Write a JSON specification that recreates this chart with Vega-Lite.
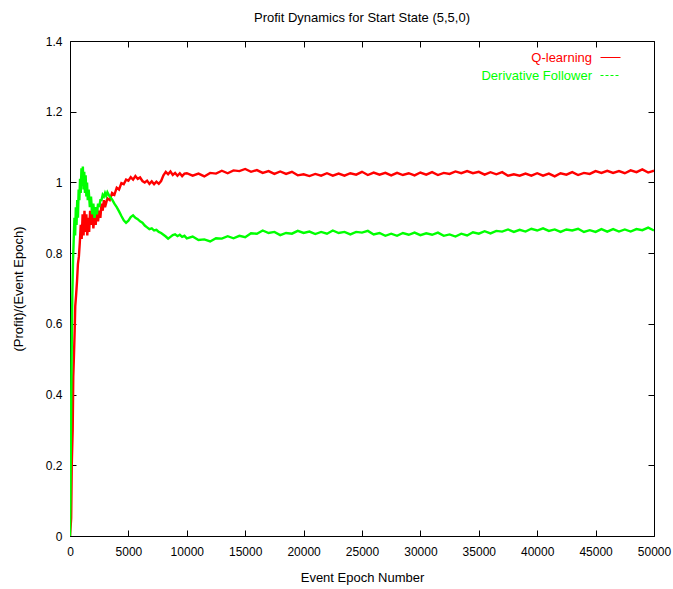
{
  "$schema": "https://vega.github.io/schema/vega-lite/v6.json",
  "autosize": "none",
  "padding": {"left": 70, "top": 41, "right": 19, "bottom": 53},
  "width": 584,
  "height": 495,
  "background": "white",
  "title": {"text": "Profit Dynamics for Start State (5,5,0)", "font": "Liberation Sans", "fontSize": 13, "fontWeight": "normal", "color": "#000", "offset": 10, "anchor": "middle"},
  "config": {
    "view": {"stroke": "#000", "strokeWidth": 1},
    "axis": {"labelFont": "Liberation Sans", "labelFontSize": 12, "labelColor": "#000", "titleFont": "Liberation Sans", "titleFontSize": 13, "titleFontWeight": "normal", "titleColor": "#000", "tickColor": "#000", "tickSize": -6, "domain": false, "grid": false, "labelFlush": false, "labelOverlap": false}
  },
  "data": {"values": [
    {"series":"Q-learning","epoch":0,"profit":0},{"series":"Q-learning","epoch":100,"profit":0.05},{"series":"Q-learning","epoch":150,"profit":0.2},{"series":"Q-learning","epoch":230,"profit":0.3},{"series":"Q-learning","epoch":280,"profit":0.45},{"series":"Q-learning","epoch":330,"profit":0.5},{"series":"Q-learning","epoch":400,"profit":0.58},{"series":"Q-learning","epoch":450,"profit":0.65},{"series":"Q-learning","epoch":520,"profit":0.68},{"series":"Q-learning","epoch":600,"profit":0.72},{"series":"Q-learning","epoch":680,"profit":0.77},{"series":"Q-learning","epoch":760,"profit":0.79},{"series":"Q-learning","epoch":840,"profit":0.83},{"series":"Q-learning","epoch":920,"profit":0.88},{"series":"Q-learning","epoch":1000,"profit":0.84},{"series":"Q-learning","epoch":1080,"profit":0.91},{"series":"Q-learning","epoch":1160,"profit":0.85},{"series":"Q-learning","epoch":1240,"profit":0.92},{"series":"Q-learning","epoch":1320,"profit":0.86},{"series":"Q-learning","epoch":1400,"profit":0.91},{"series":"Q-learning","epoch":1480,"profit":0.85},{"series":"Q-learning","epoch":1560,"profit":0.9},{"series":"Q-learning","epoch":1640,"profit":0.86},{"series":"Q-learning","epoch":1720,"profit":0.92},{"series":"Q-learning","epoch":1800,"profit":0.88},{"series":"Q-learning","epoch":1900,"profit":0.93},{"series":"Q-learning","epoch":2000,"profit":0.87},{"series":"Q-learning","epoch":2100,"profit":0.91},{"series":"Q-learning","epoch":2200,"profit":0.88},{"series":"Q-learning","epoch":2300,"profit":0.93},{"series":"Q-learning","epoch":2400,"profit":0.89},{"series":"Q-learning","epoch":2500,"profit":0.92},{"series":"Q-learning","epoch":2600,"profit":0.9},{"series":"Q-learning","epoch":2700,"profit":0.94},{"series":"Q-learning","epoch":2800,"profit":0.92},{"series":"Q-learning","epoch":2900,"profit":0.95},{"series":"Q-learning","epoch":3000,"profit":0.93},{"series":"Q-learning","epoch":3200,"profit":0.955},{"series":"Q-learning","epoch":3400,"profit":0.95},{"series":"Q-learning","epoch":3600,"profit":0.97},{"series":"Q-learning","epoch":3800,"profit":0.965},{"series":"Q-learning","epoch":4000,"profit":0.985},{"series":"Q-learning","epoch":4200,"profit":0.98},{"series":"Q-learning","epoch":4400,"profit":0.998},{"series":"Q-learning","epoch":4600,"profit":0.995},{"series":"Q-learning","epoch":4800,"profit":1.008},{"series":"Q-learning","epoch":5000,"profit":1.005},{"series":"Q-learning","epoch":5200,"profit":1.015},{"series":"Q-learning","epoch":5400,"profit":1.008},{"series":"Q-learning","epoch":5600,"profit":1.018},{"series":"Q-learning","epoch":5800,"profit":1.01},{"series":"Q-learning","epoch":6000,"profit":1.014},{"series":"Q-learning","epoch":6200,"profit":1.004},{"series":"Q-learning","epoch":6400,"profit":1.0},{"series":"Q-learning","epoch":6600,"profit":1.005},{"series":"Q-learning","epoch":6800,"profit":0.996},{"series":"Q-learning","epoch":7000,"profit":1.003},{"series":"Q-learning","epoch":7200,"profit":0.995},{"series":"Q-learning","epoch":7400,"profit":1.002},{"series":"Q-learning","epoch":7600,"profit":0.996},{"series":"Q-learning","epoch":7800,"profit":1.004},{"series":"Q-learning","epoch":8000,"profit":1.02},{"series":"Q-learning","epoch":8200,"profit":1.03},{"series":"Q-learning","epoch":8400,"profit":1.023},{"series":"Q-learning","epoch":8600,"profit":1.031},{"series":"Q-learning","epoch":8800,"profit":1.021},{"series":"Q-learning","epoch":9000,"profit":1.027},{"series":"Q-learning","epoch":9200,"profit":1.019},{"series":"Q-learning","epoch":9400,"profit":1.026},{"series":"Q-learning","epoch":9600,"profit":1.018},{"series":"Q-learning","epoch":9800,"profit":1.025},
    {"series":"Q-learning","epoch":10000,"profit":1.026},{"series":"Q-learning","epoch":10500,"profit":1.019},{"series":"Q-learning","epoch":11000,"profit":1.025},{"series":"Q-learning","epoch":11500,"profit":1.017},{"series":"Q-learning","epoch":12000,"profit":1.027},{"series":"Q-learning","epoch":12500,"profit":1.025},{"series":"Q-learning","epoch":13000,"profit":1.033},{"series":"Q-learning","epoch":13500,"profit":1.026},{"series":"Q-learning","epoch":14000,"profit":1.034},{"series":"Q-learning","epoch":14500,"profit":1.032},{"series":"Q-learning","epoch":15000,"profit":1.038},{"series":"Q-learning","epoch":15500,"profit":1.03},{"series":"Q-learning","epoch":16000,"profit":1.035},{"series":"Q-learning","epoch":16500,"profit":1.027},{"series":"Q-learning","epoch":17000,"profit":1.032},{"series":"Q-learning","epoch":17500,"profit":1.024},{"series":"Q-learning","epoch":18000,"profit":1.031},{"series":"Q-learning","epoch":18500,"profit":1.024},{"series":"Q-learning","epoch":19000,"profit":1.03},{"series":"Q-learning","epoch":19500,"profit":1.02},{"series":"Q-learning","epoch":20000,"profit":1.023},{"series":"Q-learning","epoch":20500,"profit":1.018},{"series":"Q-learning","epoch":21000,"profit":1.024},{"series":"Q-learning","epoch":21500,"profit":1.019},{"series":"Q-learning","epoch":22000,"profit":1.026},{"series":"Q-learning","epoch":22500,"profit":1.019},{"series":"Q-learning","epoch":23000,"profit":1.025},{"series":"Q-learning","epoch":23500,"profit":1.019},{"series":"Q-learning","epoch":24000,"profit":1.026},{"series":"Q-learning","epoch":24500,"profit":1.022},{"series":"Q-learning","epoch":25000,"profit":1.03},{"series":"Q-learning","epoch":25500,"profit":1.021},{"series":"Q-learning","epoch":26000,"profit":1.028},{"series":"Q-learning","epoch":26500,"profit":1.022},{"series":"Q-learning","epoch":27000,"profit":1.027},{"series":"Q-learning","epoch":27500,"profit":1.02},{"series":"Q-learning","epoch":28000,"profit":1.027},{"series":"Q-learning","epoch":28500,"profit":1.021},{"series":"Q-learning","epoch":29000,"profit":1.026},{"series":"Q-learning","epoch":29500,"profit":1.02},{"series":"Q-learning","epoch":30000,"profit":1.028},{"series":"Q-learning","epoch":30500,"profit":1.022},{"series":"Q-learning","epoch":31000,"profit":1.029},{"series":"Q-learning","epoch":31500,"profit":1.021},{"series":"Q-learning","epoch":32000,"profit":1.027},{"series":"Q-learning","epoch":32500,"profit":1.024},{"series":"Q-learning","epoch":33000,"profit":1.031},{"series":"Q-learning","epoch":33500,"profit":1.026},{"series":"Q-learning","epoch":34000,"profit":1.032},{"series":"Q-learning","epoch":34500,"profit":1.026},{"series":"Q-learning","epoch":35000,"profit":1.03},{"series":"Q-learning","epoch":35500,"profit":1.022},{"series":"Q-learning","epoch":36000,"profit":1.029},{"series":"Q-learning","epoch":36500,"profit":1.023},{"series":"Q-learning","epoch":37000,"profit":1.029},{"series":"Q-learning","epoch":37500,"profit":1.019},{"series":"Q-learning","epoch":38000,"profit":1.023},{"series":"Q-learning","epoch":38500,"profit":1.019},{"series":"Q-learning","epoch":39000,"profit":1.025},{"series":"Q-learning","epoch":39500,"profit":1.019},{"series":"Q-learning","epoch":40000,"profit":1.026},{"series":"Q-learning","epoch":40500,"profit":1.019},{"series":"Q-learning","epoch":41000,"profit":1.025},{"series":"Q-learning","epoch":41500,"profit":1.017},{"series":"Q-learning","epoch":42000,"profit":1.026},{"series":"Q-learning","epoch":42500,"profit":1.022},{"series":"Q-learning","epoch":43000,"profit":1.029},{"series":"Q-learning","epoch":43500,"profit":1.021},{"series":"Q-learning","epoch":44000,"profit":1.027},{"series":"Q-learning","epoch":44500,"profit":1.024},{"series":"Q-learning","epoch":45000,"profit":1.032},{"series":"Q-learning","epoch":45500,"profit":1.027},{"series":"Q-learning","epoch":46000,"profit":1.033},{"series":"Q-learning","epoch":46500,"profit":1.027},{"series":"Q-learning","epoch":47000,"profit":1.032},{"series":"Q-learning","epoch":47500,"profit":1.026},{"series":"Q-learning","epoch":48000,"profit":1.034},{"series":"Q-learning","epoch":48500,"profit":1.029},{"series":"Q-learning","epoch":49000,"profit":1.037},{"series":"Q-learning","epoch":49500,"profit":1.028},{"series":"Q-learning","epoch":50000,"profit":1.033},
    {"series":"Derivative Follower","epoch":0,"profit":0},{"series":"Derivative Follower","epoch":40,"profit":0.1},{"series":"Derivative Follower","epoch":80,"profit":0.3},{"series":"Derivative Follower","epoch":120,"profit":0.45},{"series":"Derivative Follower","epoch":160,"profit":0.58},{"series":"Derivative Follower","epoch":200,"profit":0.68},{"series":"Derivative Follower","epoch":260,"profit":0.78},{"series":"Derivative Follower","epoch":320,"profit":0.84},{"series":"Derivative Follower","epoch":380,"profit":0.9},{"series":"Derivative Follower","epoch":440,"profit":0.85},{"series":"Derivative Follower","epoch":500,"profit":0.93},{"series":"Derivative Follower","epoch":560,"profit":0.88},{"series":"Derivative Follower","epoch":620,"profit":0.95},{"series":"Derivative Follower","epoch":680,"profit":0.9},{"series":"Derivative Follower","epoch":740,"profit":0.98},{"series":"Derivative Follower","epoch":800,"profit":0.95},{"series":"Derivative Follower","epoch":860,"profit":1.01},{"series":"Derivative Follower","epoch":920,"profit":0.97},{"series":"Derivative Follower","epoch":980,"profit":1.04},{"series":"Derivative Follower","epoch":1040,"profit":0.99},{"series":"Derivative Follower","epoch":1100,"profit":1.045},{"series":"Derivative Follower","epoch":1160,"profit":0.98},{"series":"Derivative Follower","epoch":1220,"profit":1.03},{"series":"Derivative Follower","epoch":1280,"profit":0.97},{"series":"Derivative Follower","epoch":1340,"profit":1.02},{"series":"Derivative Follower","epoch":1400,"profit":0.96},{"series":"Derivative Follower","epoch":1460,"profit":1.0},{"series":"Derivative Follower","epoch":1520,"profit":0.95},{"series":"Derivative Follower","epoch":1600,"profit":0.98},{"series":"Derivative Follower","epoch":1700,"profit":0.93},{"series":"Derivative Follower","epoch":1800,"profit":0.96},{"series":"Derivative Follower","epoch":1900,"profit":0.91},{"series":"Derivative Follower","epoch":2000,"profit":0.94},{"series":"Derivative Follower","epoch":2100,"profit":0.9},{"series":"Derivative Follower","epoch":2200,"profit":0.93},{"series":"Derivative Follower","epoch":2300,"profit":0.91},{"series":"Derivative Follower","epoch":2400,"profit":0.94},{"series":"Derivative Follower","epoch":2500,"profit":0.93},{"series":"Derivative Follower","epoch":2600,"profit":0.95},{"series":"Derivative Follower","epoch":2700,"profit":0.95},{"series":"Derivative Follower","epoch":2800,"profit":0.965},{"series":"Derivative Follower","epoch":2900,"profit":0.96},{"series":"Derivative Follower","epoch":3000,"profit":0.97},{"series":"Derivative Follower","epoch":3100,"profit":0.962},{"series":"Derivative Follower","epoch":3200,"profit":0.972},{"series":"Derivative Follower","epoch":3400,"profit":0.96},{"series":"Derivative Follower","epoch":3600,"profit":0.952},{"series":"Derivative Follower","epoch":3800,"profit":0.94},{"series":"Derivative Follower","epoch":4000,"profit":0.93},{"series":"Derivative Follower","epoch":4200,"profit":0.918},{"series":"Derivative Follower","epoch":4400,"profit":0.905},{"series":"Derivative Follower","epoch":4600,"profit":0.893},{"series":"Derivative Follower","epoch":4800,"profit":0.886},{"series":"Derivative Follower","epoch":5000,"profit":0.892},{"series":"Derivative Follower","epoch":5200,"profit":0.902},{"series":"Derivative Follower","epoch":5400,"profit":0.907},{"series":"Derivative Follower","epoch":5600,"profit":0.9},{"series":"Derivative Follower","epoch":5800,"profit":0.896},{"series":"Derivative Follower","epoch":6000,"profit":0.89},{"series":"Derivative Follower","epoch":6200,"profit":0.886},{"series":"Derivative Follower","epoch":6400,"profit":0.878},{"series":"Derivative Follower","epoch":6600,"profit":0.873},{"series":"Derivative Follower","epoch":6800,"profit":0.868},{"series":"Derivative Follower","epoch":7000,"profit":0.87},{"series":"Derivative Follower","epoch":7200,"profit":0.864},{"series":"Derivative Follower","epoch":7400,"profit":0.866},{"series":"Derivative Follower","epoch":7600,"profit":0.86},{"series":"Derivative Follower","epoch":7800,"profit":0.857},{"series":"Derivative Follower","epoch":8000,"profit":0.852},{"series":"Derivative Follower","epoch":8200,"profit":0.847},{"series":"Derivative Follower","epoch":8400,"profit":0.841},{"series":"Derivative Follower","epoch":8600,"profit":0.846},{"series":"Derivative Follower","epoch":8800,"profit":0.851},{"series":"Derivative Follower","epoch":9000,"profit":0.853},{"series":"Derivative Follower","epoch":9200,"profit":0.848},{"series":"Derivative Follower","epoch":9400,"profit":0.852},{"series":"Derivative Follower","epoch":9600,"profit":0.846},{"series":"Derivative Follower","epoch":9800,"profit":0.849},
    {"series":"Derivative Follower","epoch":10000,"profit":0.842},{"series":"Derivative Follower","epoch":10500,"profit":0.847},{"series":"Derivative Follower","epoch":11000,"profit":0.837},{"series":"Derivative Follower","epoch":11500,"profit":0.839},{"series":"Derivative Follower","epoch":12000,"profit":0.833},{"series":"Derivative Follower","epoch":12500,"profit":0.842},{"series":"Derivative Follower","epoch":13000,"profit":0.841},{"series":"Derivative Follower","epoch":13500,"profit":0.848},{"series":"Derivative Follower","epoch":14000,"profit":0.842},{"series":"Derivative Follower","epoch":14500,"profit":0.849},{"series":"Derivative Follower","epoch":15000,"profit":0.845},{"series":"Derivative Follower","epoch":15500,"profit":0.856},{"series":"Derivative Follower","epoch":16000,"profit":0.855},{"series":"Derivative Follower","epoch":16500,"profit":0.864},{"series":"Derivative Follower","epoch":17000,"profit":0.857},{"series":"Derivative Follower","epoch":17500,"profit":0.86},{"series":"Derivative Follower","epoch":18000,"profit":0.851},{"series":"Derivative Follower","epoch":18500,"profit":0.857},{"series":"Derivative Follower","epoch":19000,"profit":0.855},{"series":"Derivative Follower","epoch":19500,"profit":0.863},{"series":"Derivative Follower","epoch":20000,"profit":0.857},{"series":"Derivative Follower","epoch":20500,"profit":0.861},{"series":"Derivative Follower","epoch":21000,"profit":0.854},{"series":"Derivative Follower","epoch":21500,"profit":0.86},{"series":"Derivative Follower","epoch":22000,"profit":0.855},{"series":"Derivative Follower","epoch":22500,"profit":0.864},{"series":"Derivative Follower","epoch":23000,"profit":0.857},{"series":"Derivative Follower","epoch":23500,"profit":0.86},{"series":"Derivative Follower","epoch":24000,"profit":0.853},{"series":"Derivative Follower","epoch":24500,"profit":0.86},{"series":"Derivative Follower","epoch":25000,"profit":0.858},{"series":"Derivative Follower","epoch":25500,"profit":0.863},{"series":"Derivative Follower","epoch":26000,"profit":0.853},{"series":"Derivative Follower","epoch":26500,"profit":0.857},{"series":"Derivative Follower","epoch":27000,"profit":0.849},{"series":"Derivative Follower","epoch":27500,"profit":0.855},{"series":"Derivative Follower","epoch":28000,"profit":0.849},{"series":"Derivative Follower","epoch":28500,"profit":0.857},{"series":"Derivative Follower","epoch":29000,"profit":0.852},{"series":"Derivative Follower","epoch":29500,"profit":0.858},{"series":"Derivative Follower","epoch":30000,"profit":0.851},{"series":"Derivative Follower","epoch":30500,"profit":0.856},{"series":"Derivative Follower","epoch":31000,"profit":0.852},{"series":"Derivative Follower","epoch":31500,"profit":0.858},{"series":"Derivative Follower","epoch":32000,"profit":0.849},{"series":"Derivative Follower","epoch":32500,"profit":0.853},{"series":"Derivative Follower","epoch":33000,"profit":0.847},{"series":"Derivative Follower","epoch":33500,"profit":0.855},{"series":"Derivative Follower","epoch":34000,"profit":0.85},{"series":"Derivative Follower","epoch":34500,"profit":0.859},{"series":"Derivative Follower","epoch":35000,"profit":0.855},{"series":"Derivative Follower","epoch":35500,"profit":0.862},{"series":"Derivative Follower","epoch":36000,"profit":0.856},{"series":"Derivative Follower","epoch":36500,"profit":0.863},{"series":"Derivative Follower","epoch":37000,"profit":0.861},{"series":"Derivative Follower","epoch":37500,"profit":0.867},{"series":"Derivative Follower","epoch":38000,"profit":0.86},{"series":"Derivative Follower","epoch":38500,"profit":0.866},{"series":"Derivative Follower","epoch":39000,"profit":0.861},{"series":"Derivative Follower","epoch":39500,"profit":0.869},{"series":"Derivative Follower","epoch":40000,"profit":0.864},{"series":"Derivative Follower","epoch":40500,"profit":0.87},{"series":"Derivative Follower","epoch":41000,"profit":0.863},{"series":"Derivative Follower","epoch":41500,"profit":0.867},{"series":"Derivative Follower","epoch":42000,"profit":0.86},{"series":"Derivative Follower","epoch":42500,"profit":0.867},{"series":"Derivative Follower","epoch":43000,"profit":0.864},{"series":"Derivative Follower","epoch":43500,"profit":0.869},{"series":"Derivative Follower","epoch":44000,"profit":0.86},{"series":"Derivative Follower","epoch":44500,"profit":0.865},{"series":"Derivative Follower","epoch":45000,"profit":0.86},{"series":"Derivative Follower","epoch":45500,"profit":0.868},{"series":"Derivative Follower","epoch":46000,"profit":0.861},{"series":"Derivative Follower","epoch":46500,"profit":0.868},{"series":"Derivative Follower","epoch":47000,"profit":0.861},{"series":"Derivative Follower","epoch":47500,"profit":0.867},{"series":"Derivative Follower","epoch":48000,"profit":0.861},{"series":"Derivative Follower","epoch":48500,"profit":0.868},{"series":"Derivative Follower","epoch":49000,"profit":0.865},{"series":"Derivative Follower","epoch":49500,"profit":0.872},{"series":"Derivative Follower","epoch":50000,"profit":0.864}
  ]},
  "layer": [
    {
      "mark": {"type": "line", "strokeOpacity": 0},
      "encoding": {
        "x": {"field": "epoch", "type": "quantitative", "scale": {"domain": [0, 50000], "nice": false, "zero": false},
              "axis": {"orient": "top", "labels": false, "title": null, "values": [0,5000,10000,15000,20000,25000,30000,35000,40000,45000,50000]}},
        "y": {"field": "profit", "type": "quantitative", "scale": {"domain": [0, 1.4], "nice": false, "zero": false},
              "axis": {"orient": "right", "labels": false, "title": null, "values": [0,0.2,0.4,0.6,0.8,1,1.2,1.4]}},
        "detail": {"field": "series"}
      }
    },
    {
      "mark": {"type": "line", "strokeWidth": 2.4, "clip": true},
      "encoding": {
        "x": {"field": "epoch", "type": "quantitative", "scale": {"domain": [0, 50000], "nice": false, "zero": false},
              "axis": {"orient": "bottom", "title": "Event Epoch Number", "format": "d", "labelPadding": 16, "titlePadding": 14, "values": [0,5000,10000,15000,20000,25000,30000,35000,40000,45000,50000]}},
        "y": {"field": "profit", "type": "quantitative", "scale": {"domain": [0, 1.4], "nice": false, "zero": false},
              "axis": {"orient": "left", "title": "(Profit)/(Event Epoch)", "format": "~g", "labelPadding": 14, "titlePadding": 20, "values": [0,0.2,0.4,0.6,0.8,1,1.2,1.4]}},
        "color": {"field": "series", "type": "nominal", "sort": null,
                  "scale": {"domain": ["Q-learning", "Derivative Follower"], "range": ["#ff0000", "#00ff00"]},
                  "legend": {"orient": "none", "legendX": 530, "legendY": 6, "title": null, "padding": 0, "symbolType": "stroke", "symbolSize": 400, "symbolStrokeWidth": 1, "rowPadding": 0, "labelFont": "Liberation Sans", "labelFontSize": 13,
                    "encode": {
                      "labels": {"update": {"fill": {"signal": "scale('color', datum.value)"}, "x": {"value": -8}, "align": {"value": "right"}}},
                      "symbols": {"update": {"stroke": {"signal": "scale('color', datum.value)"}, "strokeDash": {"signal": "datum.value === 'Derivative Follower' ? [3,2] : null"}}}
                    }}}
      }
    }
  ],
  "resolve": {"axis": {"x": "independent", "y": "independent"}}
}
